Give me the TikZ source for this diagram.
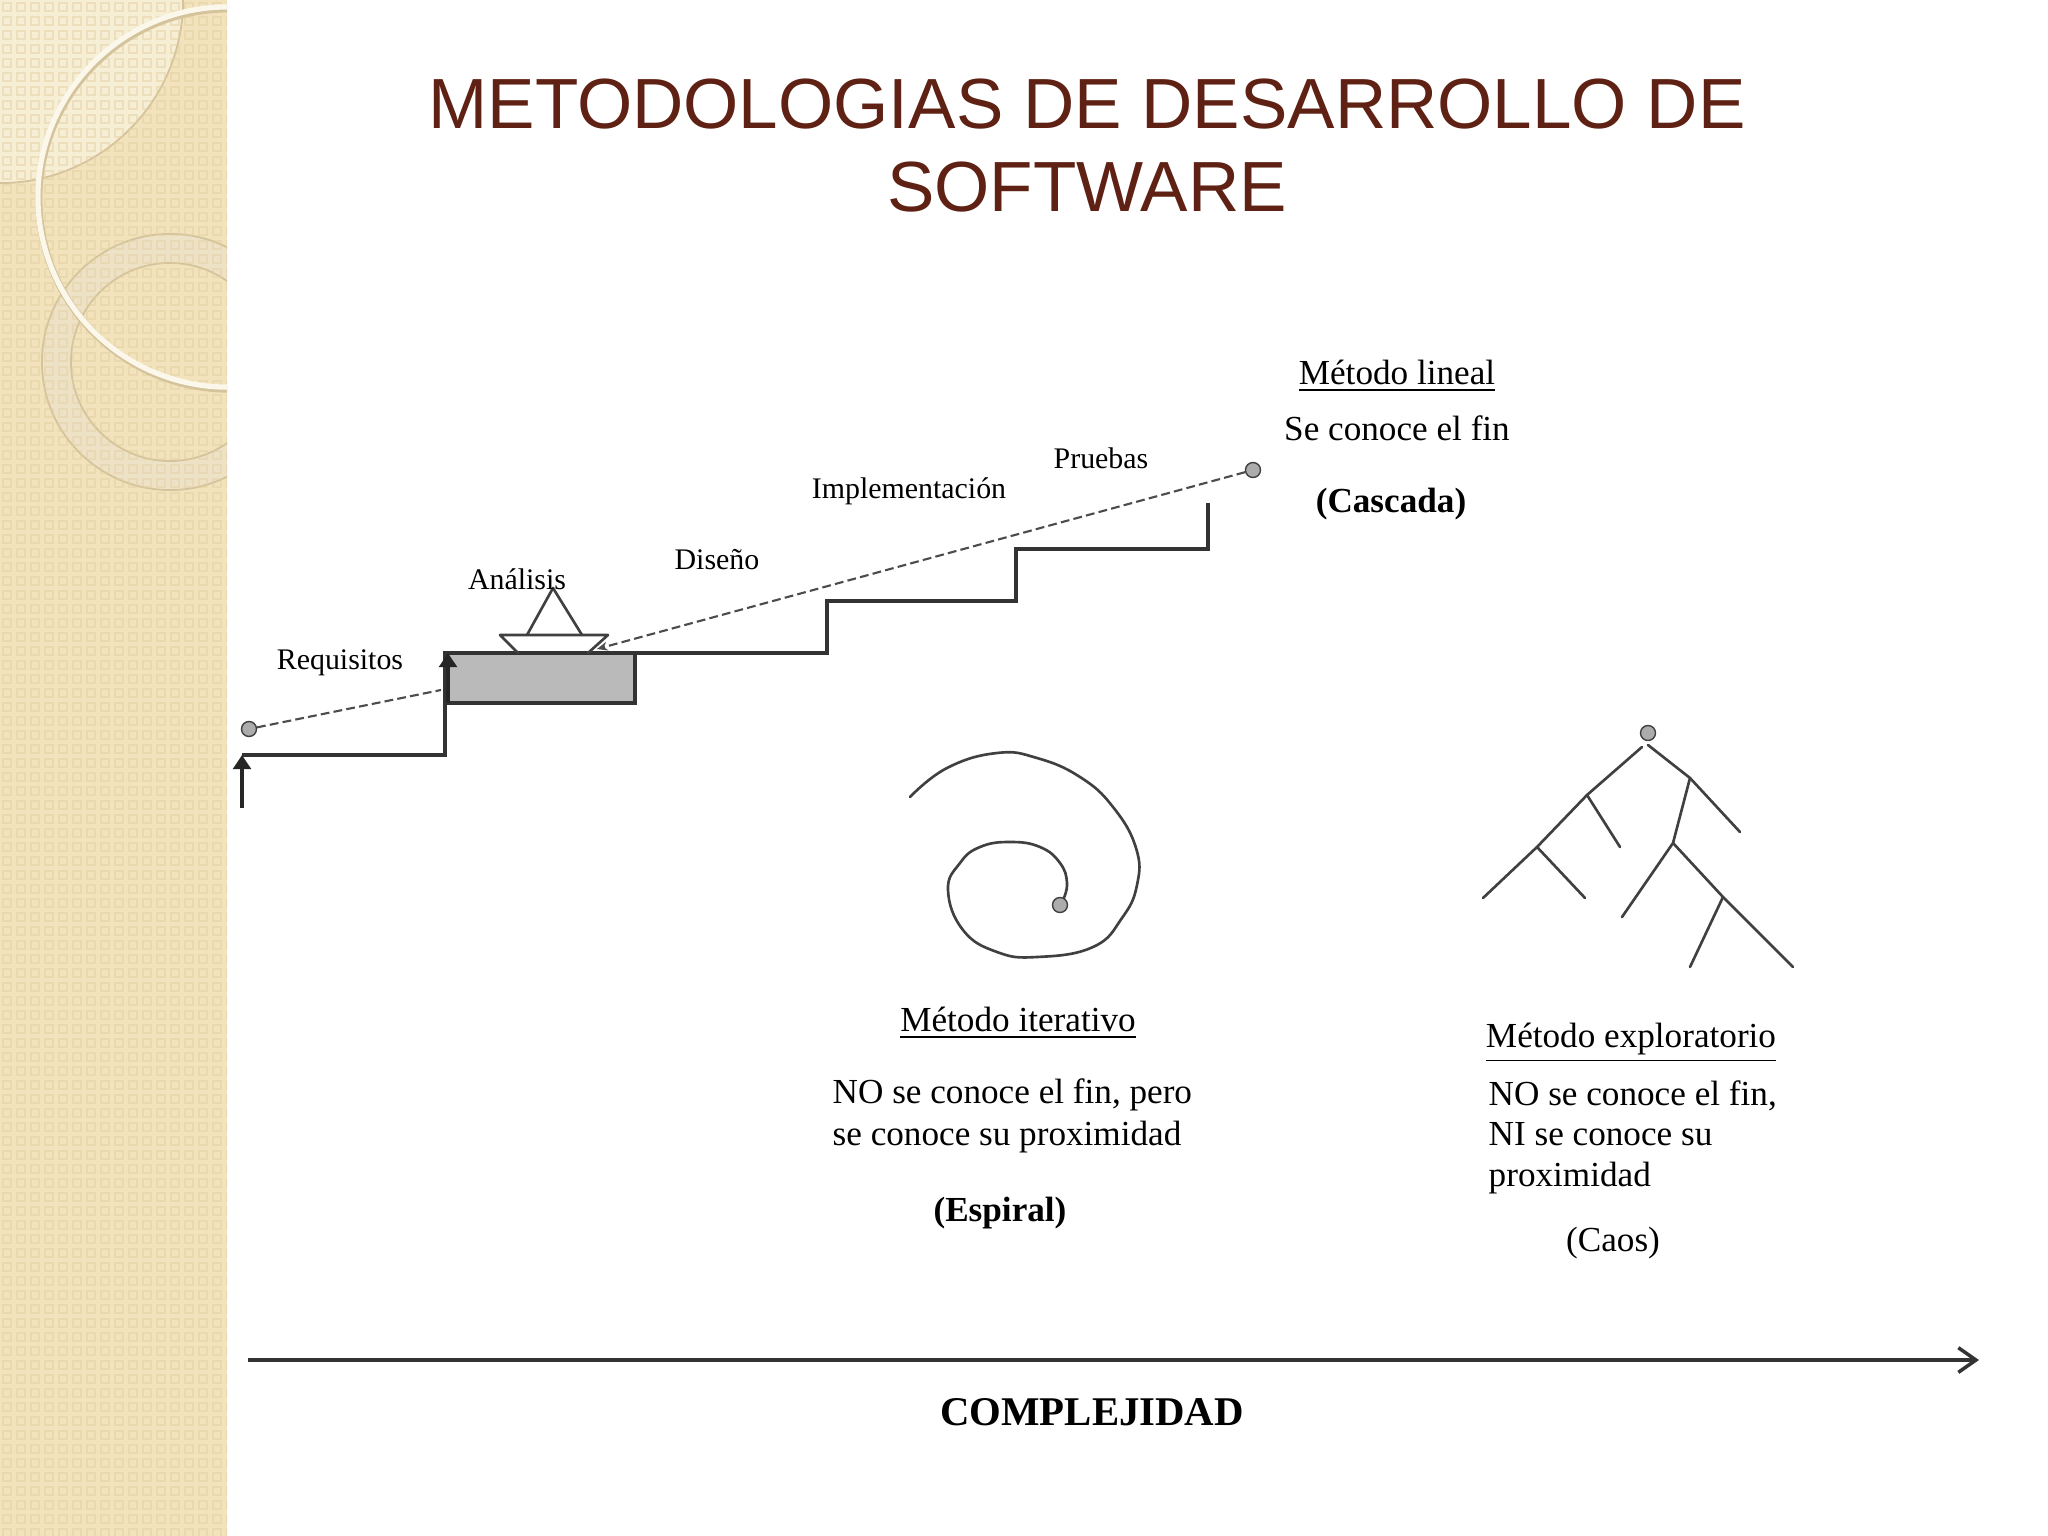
\documentclass[tikz,border=0pt]{standalone}
\usepackage{fontspec}
\setmainfont{Liberation Serif}
\newfontfamily\titlefont{Liberation Sans}
\usetikzlibrary{positioning,arrows.meta}
\definecolor{titlebrown}{RGB}{94,33,20}
\definecolor{stripbase}{RGB}{242,227,188}
\definecolor{stripdot}{RGB}{226,206,158}
\definecolor{stripline}{RGB}{212,195,155}
\definecolor{stripfill}{RGB}{247,238,214}
\definecolor{ringcol}{RGB}{238,226,198}
\newcommand{\stepfont}{\fontsize{8.5}{10}\selectfont}
\newcommand{\methodfont}{\fontsize{10}{12}\selectfont}

\begin{document}
\begin{tikzpicture}[x=0.01cm, y=-0.01cm,
    stair/.style={draw=black!80, line width=0.9pt},
    dot/.style={circle, draw=black!75, fill=gray!65, inner sep=0pt, minimum size=0.15cm},
    dashline/.style={gray!60!black, line width=0.6pt, dash pattern=on 2.5pt off 1.2pt},
    uparrow/.style={-{Triangle[length=4pt,width=5pt]}, line width=1.1pt, black!85},
    sketch/.style={black!75, line width=0.75pt, line cap=round, line join=round},
    steplabel/.style={font=\stepfont, inner sep=0pt},
    methodtext/.style={font=\methodfont, inner sep=0pt, align=left},
    titletext/.style={font=\titlefont\fontsize{20.2}{24}\selectfont, text=titlebrown, inner sep=0pt}
]
    \useasboundingbox (0,0) rectangle (2048,1536);
    \fill[white] (0,0) rectangle (2048,1536);

    % left strip
    \begin{scope}
        \clip (0,0) rectangle (227,1536);
        \fill[stripbase] (0,0) rectangle (227,1536);
        \fill[stripfill] (0,0) circle[radius=1.83cm];
        \draw[stripline, line width=0.5pt] (0,0) circle[radius=1.83cm];
        \fill[ringcol, even odd rule] (170,362) circle[radius=1.28cm] (170,362) circle[radius=0.99cm];
        \draw[stripline, line width=0.5pt] (170,362) circle[radius=1.28cm] (170,362) circle[radius=0.99cm];
        \foreach \i in {0,...,16}
            \foreach \j in {0,...,109}
                \draw[stripdot, opacity=0.45, line width=0.3pt] (\i*14+3, \j*14+3) rectangle ++(8,8);
        \draw[stripline, line width=2pt] (229,199) circle[radius=1.9cm];
        \draw[white!70!stripbase, line width=1.5pt] (228,197) circle[radius=1.9cm];
    \end{scope}

    % title
    \node[titletext] (title1) at (1087,104) {METODOLOGIAS DE DESARROLLO DE};
    \node[titletext] (title2) at (1087,187) {SOFTWARE};

    % staircase
    \filldraw[stair, fill=black!27] (445,653) rectangle (635,703);
    \draw[stair] (242,755) -- (445,755) -- (445,703);
    \draw[stair] (635,653) -- (827,653) -- (827,601) -- (1016,601) -- (1016,549) -- (1208,549) -- (1208,503);

    % boat
    \draw[sketch] (518,653) -- (500,635) -- (608,635) -- (588,653);
    \draw[sketch] (527,635) -- (553,588) -- (582,635);

    % step labels
    \node[steplabel] (requisitos) at (340,663) {Requisitos};
    \node[steplabel] (analisis) at (517,579) {Análisis};
    \node[steplabel] (diseno) at (717,560) {Diseño};
    \node[steplabel] (implementacion) at (909,491) {Implementación};
    \node[steplabel] (pruebas) at (1101,458) {Pruebas};

    % dots
    \node[dot] (inicio) at (249,729) {};
    \node[dot] (fin) at (1253,470) {};

    % arrows
    \coordinate (reqend) at (441,690);
    \coordinate (boatend) at (597,649);
    \draw[dashline] (inicio) -- (reqend);
    \draw[dashline, -{Stealth[length=3pt,width=2.5pt]}] (fin) -- (boatend);
    \coordinate (arrAfoot) at (242,808);
    \coordinate (arrAtip) at (242,755);
    \coordinate (arrBfoot) at (448,703);
    \coordinate (arrBtip) at (448,653);
    \draw[uparrow] (arrAfoot) -- (arrAtip);
    \draw[uparrow] (arrBfoot) -- (arrBtip);

    % linear method
    \node[methodtext] (lineal) at (1397,376) {\underline{Método lineal}};
    \node[methodtext] (linealfin) at (1397,428) {Se conoce el fin};
    \node[methodtext, font=\methodfont\bfseries] (cascada) at (1391,504) {(Cascada)};

    % spiral
    \draw[sketch] plot[smooth, tension=0.75] coordinates {(1063,900) (1067,883) (1060,863) (1040,847) (1010,842)
        (980,847) (960,863) (948,890) (963,930) (997,952) (1037,957) (1093,947) (1122,918) (1137,885)
        (1136,848) (1113,807) (1080,777) (1037,758) (997,753) (947,768) (910,797)};
    \node[dot] (centro) at (1060,905) {};

    % iterative method
    \node[methodtext] (iterativo) at (1018,1023) {\underline{Método iterativo}};
    \node[methodtext, anchor=west] (iterativotxt) at (832,1116) {NO se conoce el fin, pero\\se conoce su proximidad};
    \node[methodtext, font=\methodfont\bfseries] (espiral) at (1000,1213) {(Espiral)};

    % chaos tree
    \draw[sketch] (1642,747) -- (1587,795) -- (1537,847) -- (1483,898);
    \draw[sketch] (1587,795) -- (1620,847);
    \draw[sketch] (1537,847) -- (1585,898);
    \draw[sketch] (1648,745) -- (1690,778) -- (1740,832);
    \draw[sketch] (1690,778) -- (1673,843) -- (1622,917);
    \draw[sketch] (1673,843) -- (1723,897) -- (1793,967);
    \draw[sketch] (1723,897) -- (1690,967);
    \node[dot] (raiz) at (1648,733) {};

    % exploratory method
    \node[methodtext] (exploratorio) at (1631,1043) {\underline{Método exploratorio}};
    \node[methodtext, anchor=west, font=\fontsize{10}{11.5}\selectfont] (exploratoriotxt) at (1488,1137) {NO se conoce el fin,\\NI se conoce su\\proximidad};
    \node[methodtext] (caos) at (1613,1243) {(Caos)};

    % complexity axis
    \coordinate (axisL) at (248,1360);
    \coordinate (axisR) at (1979,1360);
    \draw[black!80, line width=1pt, -{Straight Barb[length=5pt,width=7pt]}] (axisL) -- (axisR);
    \node[font=\bfseries\fontsize{11.6}{14}\selectfont, inner sep=0pt] (complejidad) at (1092,1412) {COMPLEJIDAD};
\end{tikzpicture}
\end{document}
